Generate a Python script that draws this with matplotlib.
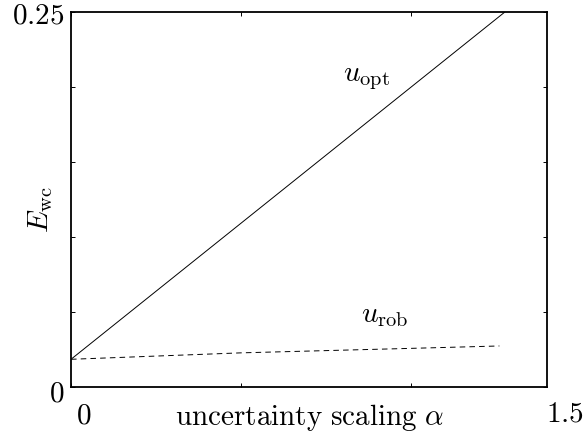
import numpy as np
import matplotlib
matplotlib.use("Agg")
import matplotlib.pyplot as plt

plt.rcParams['mathtext.fontset'] = 'cm'
plt.rcParams['lines.scale_dashes'] = False

# worst case error vs uncertainty scaling
alpha_opt = [0.0, 1.275]
e_opt = [0.0183, 0.25]
alpha_rob = [0.0, 0.5, 1.0, 1.26]
e_rob = [0.0183, 0.0226, 0.0256, 0.0272]

W, H = 584, 432
fig = plt.figure(figsize=(W/100, H/100), dpi=100)
ax = fig.add_axes([71/W, 1-386.7/H, (547-71)/W, (386.7-12.3)/H])

ax.plot(alpha_opt, e_opt, 'k-', lw=0.7)
ax.plot(alpha_rob, e_rob, 'k--', lw=0.7, dashes=(4, 3))

ax.set_xlim(0, 1.4)
ax.set_ylim(0, 0.25)
ax.set_xticks([0, 0.5, 1.0])
ax.set_yticks(np.arange(0, 0.26, 0.05))
ax.set_xticklabels([])
ax.set_yticklabels([])
ax.tick_params(direction='in', length=3, width=0.7, top=True, right=True)
for s in ax.spines.values():
    s.set_linewidth(1.3)

fs = 21
def px(x, y):
    return x/W, 1-y/H

# tick labels placed like the original
fig.text(*px(64, 16), r'$0.25$', fontsize=fs, ha='right', va='center')
fig.text(*px(64, 393), r'$0$', fontsize=fs, ha='right', va='center')
fig.text(*px(84, 415), r'$0$', fontsize=fs, ha='center', va='center')
fig.text(*px(565, 413), r'$1.5$', fontsize=fs, ha='center', va='center')

fig.text(*px(310, 425), r'$\mathrm{uncertainty\ scaling}\ \alpha$', fontsize=fs,
         ha='center', va='baseline')
fig.text(*px(41, 210), r'$E_{\mathrm{wc}}$', fontsize=fs, rotation=90,
         ha='center', va='center')

ax.text(0.87, 0.206, r'$u_{\mathrm{opt}}$', fontsize=fs, ha='center', va='center')
ax.text(0.924, 0.048, r'$u_{\mathrm{rob}}$', fontsize=fs, ha='center', va='center')

fig.savefig('out.png', dpi=100)
